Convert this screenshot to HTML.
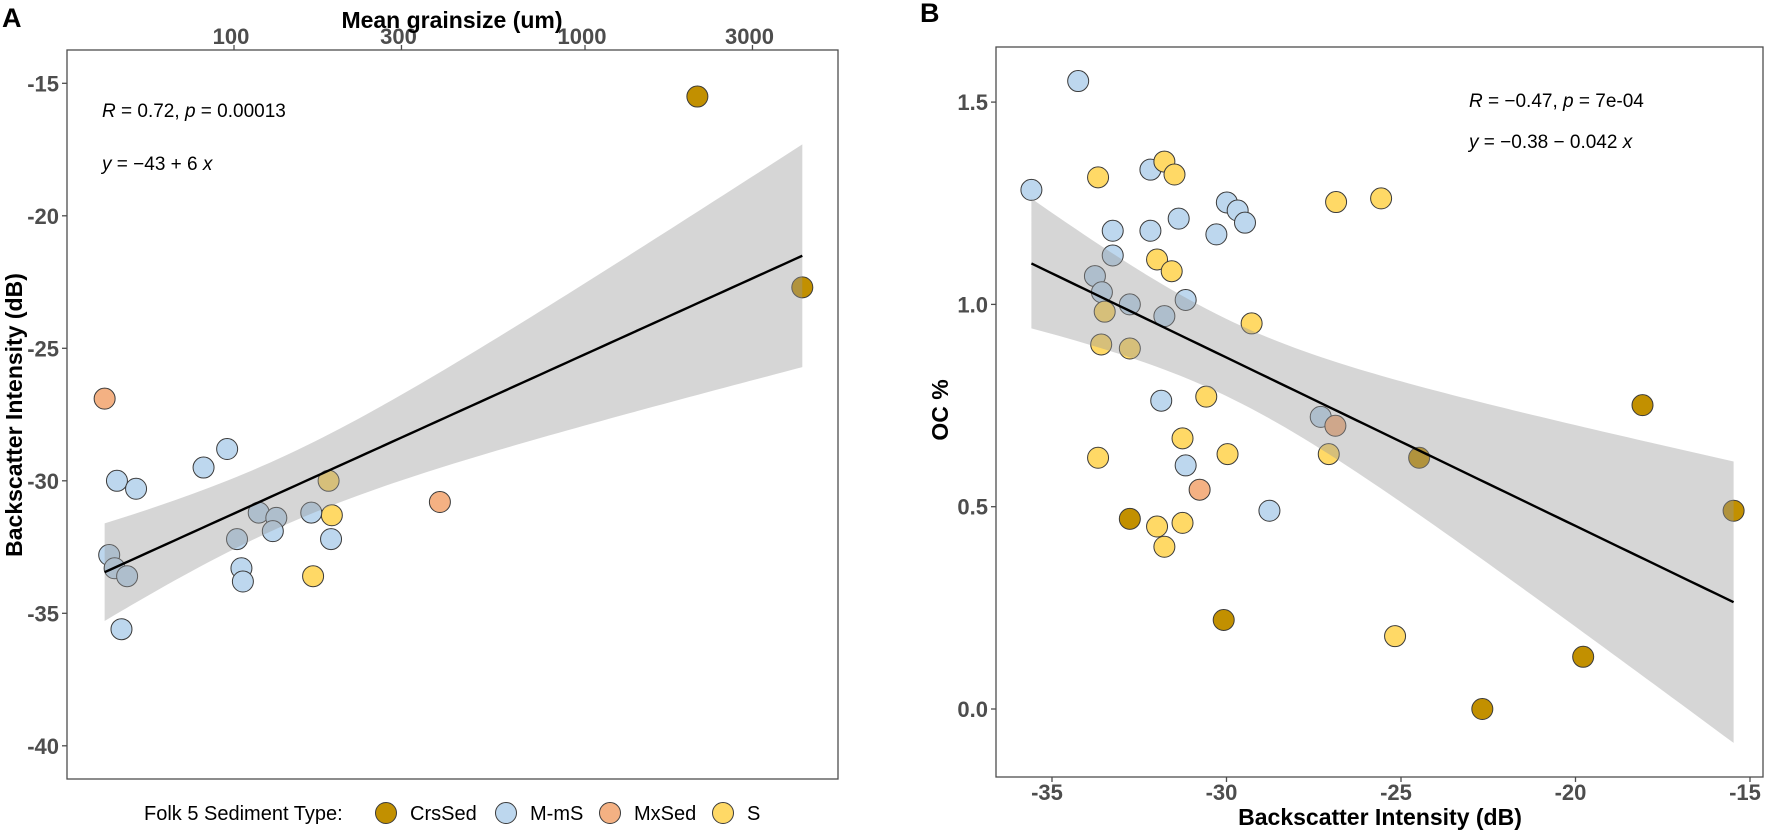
<!DOCTYPE html>
<html><head><meta charset="utf-8">
<style>
html,body{margin:0;padding:0;background:#fff;}
svg{display:block;font-family:"Liberation Sans",Arial,sans-serif;}
.tick{font-weight:bold;fill:#4d4d4d;font-size:22px;}
.title{font-weight:bold;fill:#000;font-size:23px;}
.ann{font-size:19px;fill:#000;}
</style></head>
<body>
<svg id="chart" width="1772" height="837" viewBox="0 0 1772 837" xmlns="http://www.w3.org/2000/svg">
<text x="2" y="27" font-size="27" font-weight="bold">A</text>
<text x="920" y="22" font-size="27" font-weight="bold">B</text>
<g id="panelA"></g>
<g id="panelB"></g>
<g id="legend"></g>
</svg>
<script>
// ---------- Data ----------
const typeNames = ["CrsSed","M-mS","MxSed","S"];
const typeColors = ["#c29000","#bdd7ee","#f4b183","#ffd966"];

// Panel A: grain size (um) vs backscatter (dB)
const aGrain = [2090,4160, 42.8,386, 186,190,168,
  46.4,52.6,81.9,95.6,44.1,45.7,49.6,47.8,117.6,132,102,129,105,106,166,189];
const aBS = [-15.5,-22.7, -26.9,-30.8, -30.0,-31.3,-33.6,
  -30.0,-30.3,-29.5,-28.8,-32.8,-33.3,-33.6,-35.6,-31.2,-31.4,-32.2,-31.9,-33.3,-33.8,-31.2,-32.2];
const aType = [0,0, 2,2, 3,3,3, 1,1,1,1,1,1,1,1,1,1,1,1,1,1,1,1];
const aYTicks = [-15,-20,-25,-30,-35,-40];
const aXTicks = [100,300,1000,3000];

// Panel B: backscatter (dB) vs OC %
const bBS = [-34.25,-35.59,-32.18,-33.26,-32.18,-31.37,-29.99,-29.68,-29.47,-30.29,-33.26,-33.77,-33.57,-32.77,-31.78,-31.17,-31.87,-27.30,-31.17,-28.77,
  -33.68,-31.78,-31.49,-31.99,-31.57,-33.49,-33.59,-32.77,-29.28,-26.86,-25.57,-30.58,-31.26,-33.68,-29.97,-27.07,-31.26,-31.99,-31.78,-25.17,
  -26.88,-30.77,
  -32.77,-30.08,-24.48,-18.08,-15.47,-19.78,-22.67];
const bOC = [1.552,1.283,1.333,1.182,1.182,1.212,1.252,1.232,1.202,1.173,1.121,1.070,1.030,1.000,0.971,1.011,0.762,0.722,0.602,0.490,
  1.314,1.353,1.321,1.111,1.082,0.982,0.901,0.891,0.953,1.253,1.262,0.772,0.669,0.621,0.630,0.630,0.460,0.451,0.401,0.180,
  0.700,0.542,
  0.470,0.220,0.621,0.751,0.490,0.129,0.000];
const bType = [1,1,1,1,1,1,1,1,1,1,1,1,1,1,1,1,1,1,1,1,
  3,3,3,3,3,3,3,3,3,3,3,3,3,3,3,3,3,3,3,3, 2,2, 0,0,0,0,0,0,0];
const bXTicks = [-35,-30,-25,-20,-15];
const bYTicks = [0.0,0.5,1.0,1.5];

// ---------- Helpers ----------
const NS="http://www.w3.org/2000/svg";
function mk(tag, parent, attrs){const e=document.createElementNS(NS,tag);for(const k in attrs)e.setAttribute(k,attrs[k]);parent.appendChild(e);return e;}
function tcrit(df){return df>40?2.01:2.07;}
function fitCI(xs,ys,n){
  const N=xs.length; let mx=0,my=0; for(let i=0;i<N;i++){mx+=xs[i];my+=ys[i];} mx/=N;my/=N;
  let sxx=0,sxy=0; for(let i=0;i<N;i++){sxx+=(xs[i]-mx)**2;sxy+=(xs[i]-mx)*(ys[i]-my);}
  const b=sxy/sxx,a=my-b*mx; let sse=0; for(let i=0;i<N;i++){sse+=(ys[i]-a-b*xs[i])**2;}
  const s=Math.sqrt(sse/(N-2)), t=tcrit(N-2);
  const lo=Math.min(...xs),hi=Math.max(...xs); const out=[];
  for(let k=0;k<=n;k++){const x=lo+(hi-lo)*k/n;const f=a+b*x;const se=s*Math.sqrt(1/N+(x-mx)**2/sxx);out.push([x,f,f-t*se,f+t*se]);}
  return out;
}
function drawPanel(g, P){
  const frame={x:P.L,y:P.T,w:P.R-P.L,h:P.B-P.T};
  const pts=mk('g',g,{});
  
  
  for(let i=0;i<P.xs.length;i++){
    const c=mk('circle',pts,{cx:P.sx(P.xs[i]),cy:P.sy(P.ys[i]),r:10.5,fill:typeColors[P.types[i]],stroke:'#3a3a3a','stroke-width':1});
    
    
  }
  const fit=fitCI(P.fx,P.ys,80);
  let d='M'+fit.map(r=>P.sx(P.inv(r[0]))+','+P.sy(r[3])).join('L');
  d+='L'+fit.slice().reverse().map(r=>P.sx(P.inv(r[0]))+','+P.sy(r[2])).join('L')+'Z';
  const band=mk('path',g,{d:d,fill:'#999999','fill-opacity':0.4,stroke:'none'});
  
  
  const ln=mk('path',g,{d:'M'+fit.map(r=>P.sx(P.inv(r[0]))+','+P.sy(r[1])).join('L'),fill:'none',stroke:'#000','stroke-width':2.4});
  
  
  const box=mk('rect',g,{x:frame.x,y:frame.y,width:frame.w,height:frame.h,fill:'none',stroke:'#4d4d4d','stroke-width':1.3});
  
  
}

// ---------- Panel A ----------
const gA=document.getElementById('panelA');
const A={L:67,R:838,T:50,B:779};
A.sx=g=>234+(Math.log10(g)-2)*351;
A.sy=v=>83.3+(-15-v)*26.5;
A.xs=aGrain; A.ys=aBS; A.types=aType;
A.fx=aGrain.map(g=>Math.log10(g)); A.inv=l=>Math.pow(10,l);
drawPanel(gA,A);
aYTicks.forEach(v=>{
  const y=A.sy(v);
  const tk=mk('line',gA,{x1:62,x2:A.L,y1:y,y2:y,stroke:'#4d4d4d','stroke-width':1.3});
  
  
  const t=mk('text',gA,{x:59,y:y+8,'text-anchor':'end',class:'tick'});t.textContent=String(v);
  
  
});
aXTicks.forEach(v=>{
  const x=A.sx(v);
  const tk=mk('line',gA,{x1:x,x2:x,y1:45,y2:A.T,stroke:'#4d4d4d','stroke-width':1.3});
  
  
  const t=mk('text',gA,{x:x-3,y:44,'text-anchor':'middle',class:'tick'});t.textContent=String(v);
  
  
});
</script>
<script>
// ---------- Panel B ----------
const gB=document.getElementById('panelB');
const B={L:996,R:1763,T:47,B:777};
B.sx=v=>1052+(v+35)*34.9;
B.sy=v=>709-v*404.6;
B.xs=bBS; B.ys=bOC; B.types=bType; B.fx=bBS; B.inv=v=>v;
drawPanel(gB,B);
bXTicks.forEach(v=>{
  const x=B.sx(v);
  const tk=mk('line',gB,{x1:x,x2:x,y1:B.B,y2:B.B+5,stroke:'#4d4d4d','stroke-width':1.3});
  
  
  const t=mk('text',gB,{x:x-5,y:800,'text-anchor':'middle',class:'tick'});t.textContent=String(v);
  
  
});
bYTicks.forEach(v=>{
  const y=B.sy(v);
  const tk=mk('line',gB,{x1:B.L-5,x2:B.L,y1:y,y2:y,stroke:'#4d4d4d','stroke-width':1.3});
  
  
  const t=mk('text',gB,{x:B.L-8,y:y+8,'text-anchor':'end',class:'tick'});t.textContent=v.toFixed(1);
  
  
});
// ---------- Legend ----------
const lg=document.getElementById('legend');
const lt=mk('text',lg,{x:144,y:820,'font-size':20});lt.textContent='Folk 5 Sediment Type:';


const legX=[386,506,610,723];
typeNames.forEach((n,i)=>{
  const c=mk('circle',lg,{cx:legX[i],cy:813,r:10.5,fill:typeColors[i],stroke:'#3a3a3a','stroke-width':1});
  
  
  const t=mk('text',lg,{x:legX[i]+24,y:820,'font-size':20});t.textContent=n;
  
  
});
</script>
<div style="position:absolute;left:0;top:0;width:1772px;height:837px;pointer-events:none">
<svg width="1772" height="837" style="position:absolute;left:0;top:0">
<text x="452" y="28" text-anchor="middle" class="title">Mean grainsize (um)</text>
<text transform="translate(22,415) rotate(-90)" text-anchor="middle" class="title">Backscatter Intensity (dB)</text>
<text x="102" y="117" class="ann"><tspan font-style="italic">R</tspan> = 0.72, <tspan font-style="italic">p</tspan> = 0.00013</text>
<text x="102" y="170" class="ann"><tspan font-style="italic">y</tspan> = −43 + 6 <tspan font-style="italic">x</tspan></text>
<text transform="translate(948,410) rotate(-90)" text-anchor="middle" class="title">OC %</text>
<text x="1380" y="825" text-anchor="middle" class="title">Backscatter Intensity (dB)</text>
<text x="1469" y="107" class="ann"><tspan font-style="italic">R</tspan> = −0.47, <tspan font-style="italic">p</tspan> = 7e-04</text>
<text x="1469" y="148" class="ann"><tspan font-style="italic">y</tspan> = −0.38 − 0.042 <tspan font-style="italic">x</tspan></text>
</svg>
</div>
</body></html>
